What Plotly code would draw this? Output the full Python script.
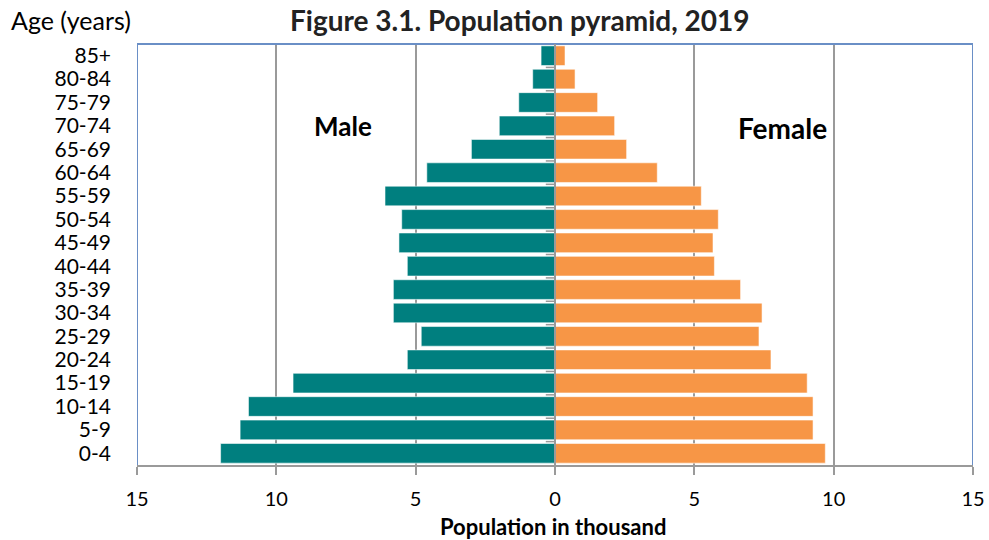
import plotly.graph_objects as go

# Age groups, bottom to top
ages = ["0-4", "5-9", "10-14", "15-19", "20-24", "25-29", "30-34", "35-39",
        "40-44", "45-49", "50-54", "55-59", "60-64", "65-69", "70-74",
        "75-79", "80-84", "85+"]

# Population in thousands
male = [12.0, 11.3, 11.0, 9.4, 5.3, 4.8, 5.8, 5.8, 5.3, 5.6, 5.5, 6.1,
        4.6, 3.0, 2.0, 1.3, 0.8, 0.5]
female = [9.7, 9.26, 9.26, 9.05, 7.75, 7.32, 7.43, 6.66, 5.72, 5.67, 5.86,
          5.25, 3.67, 2.57, 2.14, 1.53, 0.72, 0.36]

tick_vals = [-15, -10, -5, 0, 5, 10, 15]
tick_text = [str(abs(v)) for v in tick_vals]

FONT = "Lato"
TEAL = "#007F7F"
ORANGE = "#F79646"
GRID = "#9A9A9A"
BORDER = "#6A8FC6"

fig = go.Figure()
fig.add_trace(go.Bar(
    y=ages, x=[-v for v in male], orientation="h", name="Male",
    marker=dict(color=TEAL, line=dict(color="rgba(255,255,255,0.55)", width=1)),
))
fig.add_trace(go.Bar(
    y=ages, x=female, orientation="h", name="Female",
    marker=dict(color=ORANGE, line=dict(color="rgba(255,255,255,0.55)", width=1)),
))

shapes = [
    # blue frame on left, top and right
    dict(type="path", xref="x", yref="paper",
         path="M -15,0 L -15,1 L 15,1 L 15,0",
         line=dict(color=BORDER, width=2), layer="above"),
    # vertical axis at zero
    dict(type="line", xref="x", yref="paper", x0=0, x1=0, y0=0, y1=1,
         line=dict(color=GRID, width=2), layer="above"),
]
# small category ticks on the zero axis
for i in range(len(ages) - 1):
    shapes.append(dict(type="line", xref="x", yref="y",
                       x0=-0.33, x1=0, y0=i + 0.5, y1=i + 0.5,
                       line=dict(color=GRID, width=1.5), layer="above"))

fig.update_layout(
    width=989, height=540,
    margin=dict(l=137, r=16, t=44, b=75),
    paper_bgcolor="white", plot_bgcolor="white",
    barmode="overlay", bargap=0.16, showlegend=False,
    font=dict(family=FONT, color="black", size=21),
    shapes=shapes,
    xaxis=dict(
        range=[-15, 15], tickvals=tick_vals, ticktext=tick_text,
        showgrid=True, gridcolor=GRID, gridwidth=1.5, zeroline=False,
        showline=True, linecolor=GRID, linewidth=2,
        ticks="outside", ticklen=8, tickwidth=1.5, tickcolor=GRID,
        ticklabelstandoff=7, tickfont=dict(size=20),
        title=dict(text=""), automargin=False,
        fixedrange=True,
    ),
    yaxis=dict(
        categoryorder="array", categoryarray=ages,
        tickmode="array", tickvals=ages, ticktext=ages,
        showgrid=False, zeroline=False, showline=False, ticks="",
        ticklabelstandoff=25, tickfont=dict(size=21), automargin=False,
        fixedrange=True,
    ),
    annotations=[
        dict(text="<b>Figure 3.1. Population pyramid, 2019</b>", xref="paper", yref="paper",
             x=(520 - 137) / 836, y=1, yshift=24, xanchor="center", yanchor="middle",
             showarrow=False, font=dict(size=28, color="#222")),
        dict(text="Age (years)", xref="paper", yref="paper", x=0, xshift=-128,
             y=1, yshift=24, xanchor="left", yanchor="middle",
             showarrow=False, font=dict(size=25)),
        dict(text="<b>Population in thousand</b>", xref="paper", yref="paper",
             x=(553 - 137) / 836, y=0, yshift=-61, xanchor="center", yanchor="middle",
             showarrow=False, font=dict(size=22)),
        dict(text="<b>Male</b>", xref="x", yref="paper", x=-7.6, y=0.805,
             xanchor="center", yanchor="middle", showarrow=False, font=dict(size=26)),
        dict(text="<b>Female</b>", xref="x", yref="paper", x=8.15, y=0.80,
             xanchor="center", yanchor="middle", showarrow=False, font=dict(size=28)),
    ],
)

fig.write_html("out.html")
